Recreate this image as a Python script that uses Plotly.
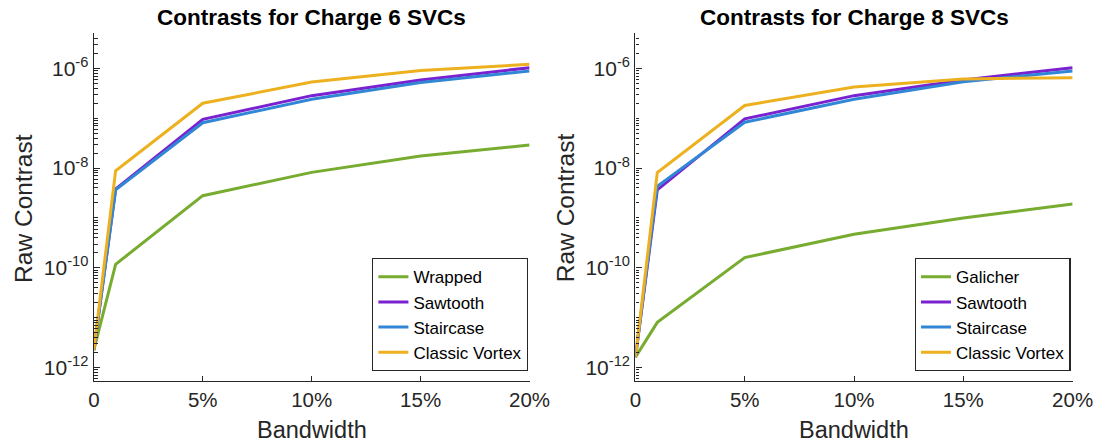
import plotly.graph_objects as go

# ---------------- data ----------------
bandwidth = [0, 1, 5, 10, 15, 20]

c6_wrapped = [2.26e-12, 1.18e-10, 2.8e-9, 8.2e-9, 1.75e-8, 2.9e-8]
c6_sawtooth = [2.26e-12, 3.8e-9, 9.5e-8, 2.83e-7, 5.8e-7, 1.03e-6]
c6_staircase = [2.26e-12, 3.65e-9, 8.1e-8, 2.4e-7, 5.2e-7, 8.8e-7]
c6_classic = [2.26e-12, 8.8e-9, 1.99e-7, 5.3e-7, 9.0e-7, 1.2e-6]

c8_galicher = [1.62e-12, 8.1e-12, 1.61e-10, 4.7e-10, 1.0e-9, 1.9e-9]
c8_sawtooth = [1.62e-12, 3.65e-9, 9.7e-8, 2.83e-7, 5.8e-7, 1.03e-6]
c8_staircase = [1.62e-12, 4.3e-9, 8.3e-8, 2.4e-7, 5.4e-7, 8.8e-7]
c8_classic = [1.62e-12, 8.1e-9, 1.8e-7, 4.2e-7, 6.1e-7, 6.5e-7]

x_tickvals = [0, 5, 10, 15, 20]
x_ticktext = ["0", "5%", "10%", "15%", "20%"]
y_tickvals = [1e-12, 1e-10, 1e-8, 1e-6]
y_ticktext = ["10<sup>-12</sup>", "10<sup>-10</sup>", "10<sup>-8</sup>", "10<sup>-6</sup>"]
y_minor = [m * 10.0 ** k for k in range(-13, -5) for m in range(1, 10)]

titles = ["Contrasts for Charge 6 SVCs", "Contrasts for Charge 8 SVCs"]

# ---------------- style ----------------
FONT = "Liberation Sans, Arial, Helvetica, sans-serif"
AX = "#262626"
GREEN = "#77AC30"
PURPLE = "#7B22D0"
BLUE = "#3187D6"
YELLOW = "#EDB120"

fig = go.Figure()

left = [("Wrapped", c6_wrapped, GREEN), ("Sawtooth", c6_sawtooth, PURPLE),
        ("Staircase", c6_staircase, BLUE), ("Classic Vortex", c6_classic, YELLOW)]
right = [("Galicher", c8_galicher, GREEN), ("Sawtooth", c8_sawtooth, PURPLE),
         ("Staircase", c8_staircase, BLUE), ("Classic Vortex", c8_classic, YELLOW)]

for name, ys, col in left:
    fig.add_trace(go.Scatter(x=bandwidth, y=ys, mode="lines", name=name,
                             line=dict(color=col, width=3), xaxis="x", yaxis="y",
                             legend="legend"))
for name, ys, col in right:
    fig.add_trace(go.Scatter(x=bandwidth, y=ys, mode="lines", name=name,
                             line=dict(color=col, width=3), xaxis="x2", yaxis="y2",
                             legend="legend2"))

ydom = [0.1380, 0.9253]
xdoms = [[0.08043, 0.47945], [0.57641, 0.97677]]

def xax(dom, anchor):
    return dict(domain=dom, anchor=anchor, range=[0, 20], tickmode="array",
                tickvals=x_tickvals, ticktext=x_ticktext, ticks="inside", ticklen=5,
                tickwidth=1.3, tickcolor=AX, showline=True, linecolor=AX, linewidth=1.4,
                showgrid=False, zeroline=False, mirror=False,
                tickfont=dict(family=FONT, size=20.5, color=AX))

def yax(anchor):
    return dict(domain=ydom, anchor=anchor, type="log", range=[-12.267, -5.293],
                tickmode="array", tickvals=y_tickvals, ticktext=y_ticktext,
                ticks="inside", ticklen=6, tickwidth=1.3, tickcolor=AX,
                minor=dict(tickmode="array", tickvals=y_minor, ticks="inside",
                           ticklen=3.5, tickwidth=1.1, tickcolor=AX, showgrid=False),
                showline=True, linecolor=AX, linewidth=1.4, showgrid=False,
                zeroline=False, mirror=False,
                tickfont=dict(family=FONT, size=21, color=AX))

legend_common = dict(bgcolor="white", bordercolor=AX, borderwidth=1.3,
                     font=dict(family=FONT, size=17, color="#000000"),
                     xanchor="right", yanchor="bottom", y=(442 - 371) / 442,
                     tracegroupgap=0, itemwidth=30)

annotations = []
centers = [(90 + 536.5) / 2 / 1119, (645 + 1093) / 2 / 1119]
ylab_x = [17.3 / 1119, 573 / 1119]
for i in range(2):
    annotations.append(dict(text="<b>%s</b>" % titles[i], x=centers[i], y=(442 - 18) / 442,
                            xref="paper", yref="paper", xanchor="center", yanchor="middle",
                            showarrow=False, font=dict(family=FONT, size=22.5, color="#000000")))
    annotations.append(dict(text="Bandwidth", x=centers[i], y=(442 - 430) / 442,
                            xref="paper", yref="paper", xanchor="center", yanchor="middle",
                            showarrow=False, font=dict(family=FONT, size=23.5, color=AX)))
    annotations.append(dict(text="Raw Contrast", x=ylab_x[i], y=(442 - 208) / 442,
                            xref="paper", yref="paper", xanchor="center", yanchor="middle",
                            textangle=-90, showarrow=False,
                            font=dict(family=FONT, size=24.5, color=AX)))

fig.update_layout(
    width=1119, height=442,
    margin=dict(l=0, r=0, t=0, b=0),
    paper_bgcolor="white", plot_bgcolor="white",
    xaxis=xax(xdoms[0], "y"), yaxis=yax("x"),
    xaxis2=xax(xdoms[1], "y2"), yaxis2=yax("x2"),
    legend=dict(x=535 / 1119, **legend_common),
    legend2=dict(x=1091 / 1119, **legend_common),
    annotations=annotations,
    showlegend=True,
)

fig.write_html("out.html")
